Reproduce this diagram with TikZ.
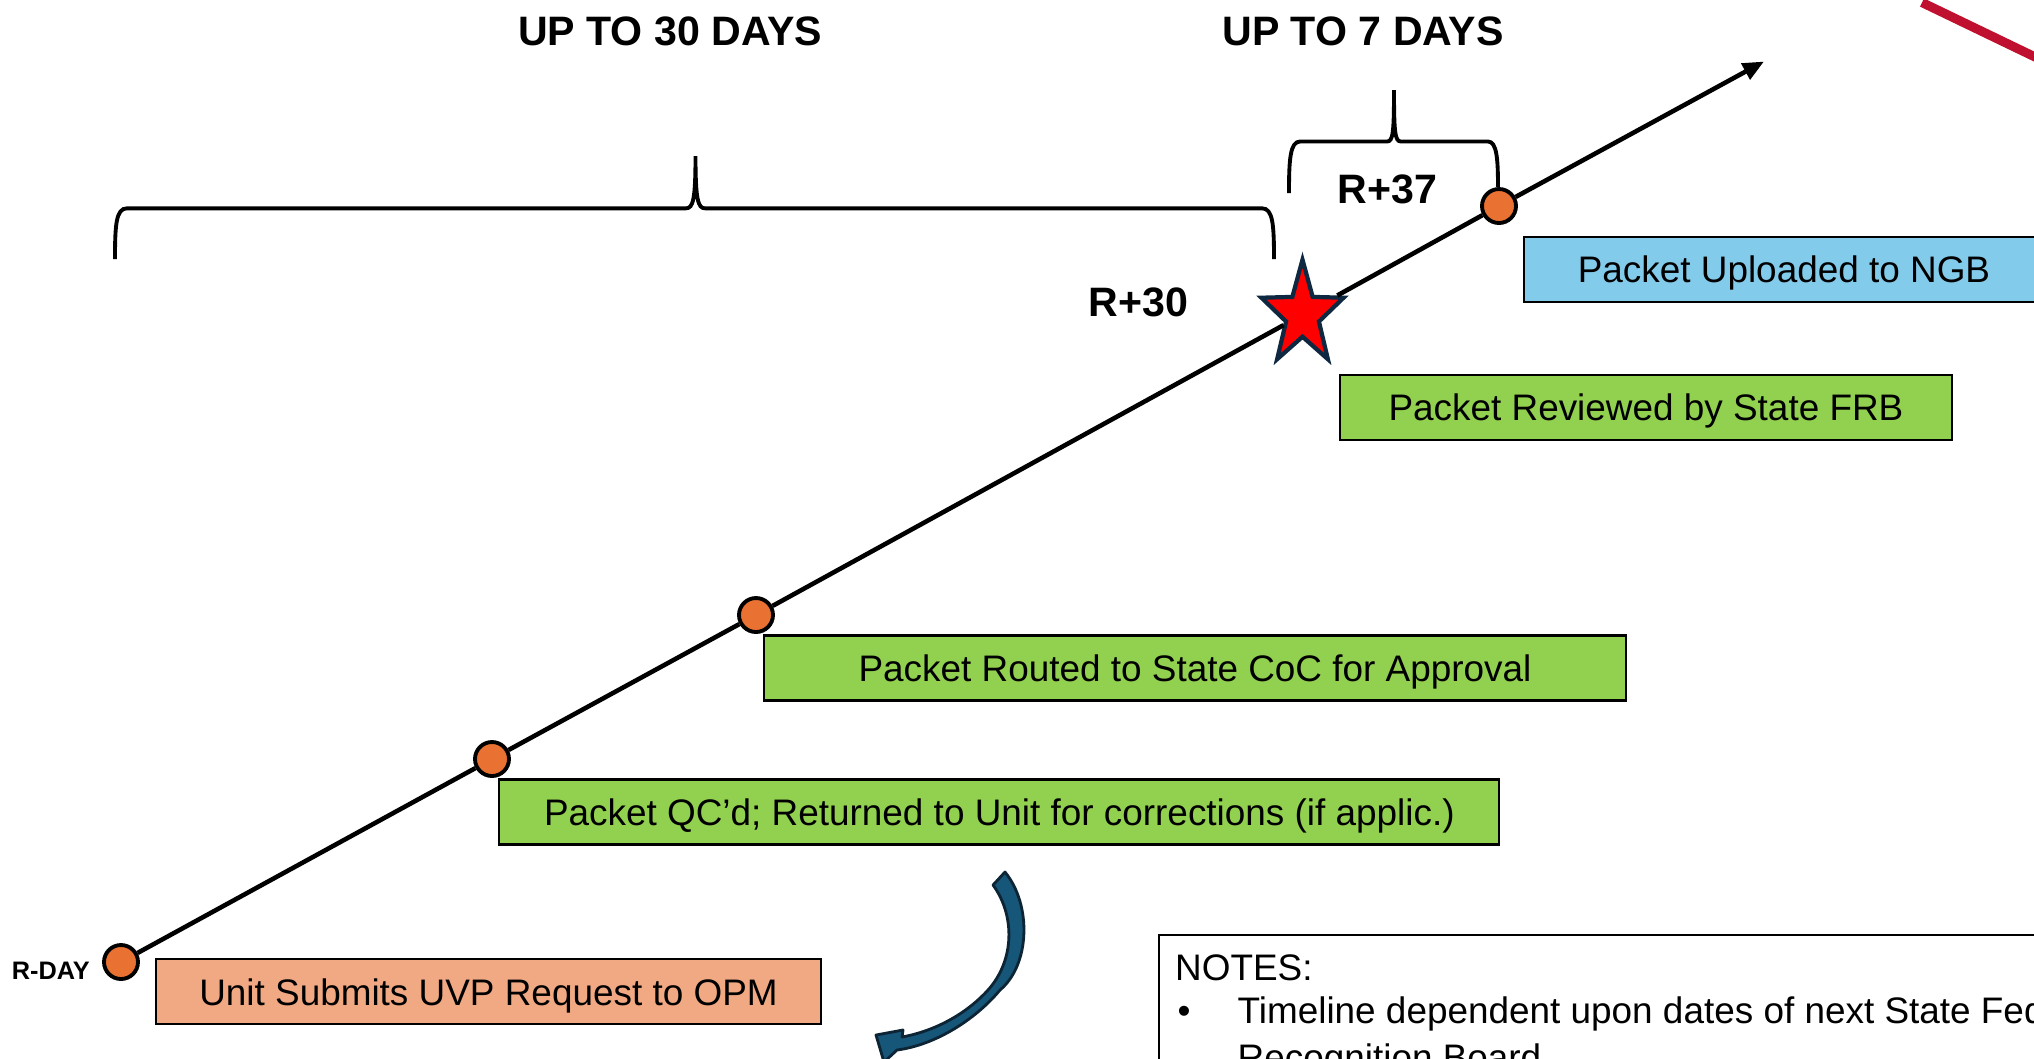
\documentclass[tikz,border=0pt]{standalone}
\usepackage{fontspec}
\setmainfont{Liberation Sans}
\usetikzlibrary{arrows.meta,shapes.geometric}

\definecolor{boxgreen}{RGB}{146,208,80}
\definecolor{boxblue}{RGB}{131,203,235}
\definecolor{boxsalmon}{RGB}{241,169,131}
\definecolor{dotorange}{RGB}{233,113,50}
\definecolor{starred}{RGB}{255,0,0}
\definecolor{staredge}{RGB}{14,40,65}
\definecolor{curvefill}{RGB}{22,86,121}
\definecolor{curveedge}{RGB}{12,36,52}
\definecolor{markred}{RGB}{192,16,48}

\begin{document}
\begin{tikzpicture}[
  stepbox/.style={draw=black, line width=0.6pt, minimum height=0.65cm, inner sep=0pt,
    text height=7.5pt, text depth=0pt, font=\fontsize{10.5}{12.6}\selectfont},
  dot/.style={circle, draw=black, line width=1.1pt, fill=dotorange, minimum size=0.34cm, inner sep=0pt},
  daylabel/.style={font=\fontsize{11.7}{14}\selectfont\bfseries, inner sep=0pt},
  bracket/.style={line width=1.1pt},
  timeline/.style={line width=1.3pt},
  notetext/.style={font=\fontsize{10.5}{12.6}\selectfont, inner sep=0pt, anchor=base west}
]
% Set the page size
\useasboundingbox (0,0) rectangle (20.34,-10.58);
\clip (0,0) rectangle (20.34,-10.58);

% Headings over the braces
\node[daylabel] (head30) at (6.70,-0.317) {UP TO 30 DAYS};
\node[daylabel] (head7) at (13.63,-0.317) {UP TO 7 DAYS};

% Braces
\draw[bracket] (1.15,-2.59) .. controls (1.15,-2.25) and (1.16,-2.083) .. (1.27,-2.083)
  -- (6.86,-2.083) .. controls (6.93,-2.083) and (6.955,-2.0) .. (6.955,-1.56)
  .. controls (6.955,-2.0) and (6.98,-2.083) .. (7.05,-2.083)
  -- (12.62,-2.083) .. controls (12.73,-2.083) and (12.74,-2.25) .. (12.74,-2.59);
\draw[bracket] (12.89,-1.93) .. controls (12.89,-1.6) and (12.90,-1.415) .. (13.0,-1.415)
  -- (13.87,-1.415) .. controls (13.93,-1.415) and (13.94,-1.33) .. (13.94,-0.90)
  .. controls (13.94,-1.33) and (13.95,-1.415) .. (14.01,-1.415)
  -- (14.88,-1.415) .. controls (14.97,-1.415) and (14.98,-1.6) .. (14.98,-1.87);

% Milestones on the timeline
\node[dot] (rday) at (1.21,-9.62) {};
\node[dot] (qc) at (4.92,-7.59) {};
\node[dot] (route) at (7.56,-6.15) {};
\node[star, star points=5, star point ratio=2.5, minimum size=1.10cm, inner sep=0pt, xscale=0.785,
  fill=starred, draw=staredge, line width=1.2pt] (frb) at (13.025,-3.147) {};
\node[dot] (ngb) at (14.99,-2.06) {};
\coordinate (tip) at (17.64,-0.615);

% Timeline
\draw[timeline] (rday) -- (qc);
\draw[timeline] (qc) -- (route);
\draw[timeline] (route) -- (frb);
\draw[timeline] (frb) -- (ngb);
\draw[timeline, -{Triangle[length=6pt, width=5pt]}] (ngb) -- (tip);

% Day labels
\node[daylabel] (r30) at (11.383,-3.02) {R+30};
\node[daylabel] (r37) at (13.876,-1.89) {R+37};
\node[font=\fontsize{7.2}{9}\selectfont\bfseries, inner sep=0pt] (rdaylabel) at (0.508,-9.71) {R-DAY};

% Step boxes
\node[stepbox, fill=boxblue, minimum width=5.2cm] (ngbbox) at (17.84,-2.695) {Packet Uploaded to NGB};
\node[stepbox, fill=boxgreen, minimum width=6.12cm] (frbbox) at (16.46,-4.075) {Packet Reviewed by State FRB};
\node[stepbox, fill=boxgreen, minimum width=8.625cm] (routebox) at (11.95,-6.68) {Packet Routed to State CoC for Approval};
\node[stepbox, fill=boxgreen, minimum width=10.0cm] (qcbox) at (9.994,-8.12) {Packet QC’d; Returned to Unit for corrections (if applic.)};
\node[stepbox, fill=boxsalmon, minimum width=6.65cm] (uvpbox) at (4.885,-9.918) {Unit Submits UVP Request to OPM};

% Curved arrow
\filldraw[fill=curvefill, draw=curveedge, line width=0.8pt, line join=round]
  (9.93,-8.85) -- (10.05,-8.72) .. controls (10.32,-9.05) and (10.30,-9.65) .. (10.00,-9.90)
  .. controls (9.75,-10.20) and (9.35,-10.45) .. (8.97,-10.50)
  -- (8.84,-10.62) -- (8.76,-10.35) -- (9.03,-10.30) -- (9.02,-10.37)
  .. controls (9.40,-10.30) and (9.70,-10.10) .. (9.88,-9.90)
  .. controls (10.15,-9.60) and (10.15,-9.15) .. (9.93,-8.85) -- cycle;

% Notes
\node[draw=black, line width=0.6pt, anchor=north west, minimum width=10cm, minimum height=2cm, inner sep=0pt] (notes) at (11.58,-9.34) {};
\node[notetext] (notehead) at (11.745,-9.80) {NOTES:};
\node[notetext] (bullet) at (11.77,-10.23) {\textbullet};
\node[notetext] (noteline) at (12.37,-10.23) {Timeline dependent upon dates of next State Federal};
\node[notetext] (noteline2) at (12.37,-10.70) {Recognition Board};

% Red mark at the corner
\draw[markred, line width=2.6pt] (19.22,-0.025) -- (20.6,-0.69);
\end{tikzpicture}
\end{document}
